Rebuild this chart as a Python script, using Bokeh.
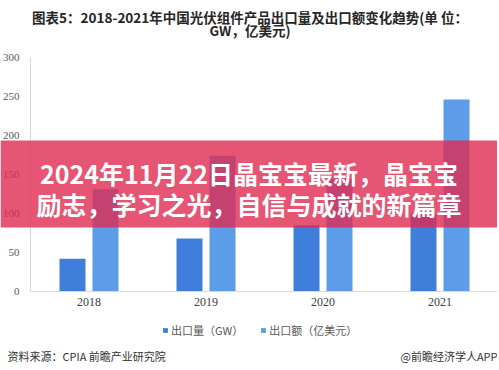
from bokeh.plotting import figure
from bokeh.models import (ColumnDataSource, Range1d, Label, BoxAnnotation,
                          Legend, LegendItem, FixedTicker)
from bokeh.transform import dodge
from bokeh.embed import file_html
from bokeh.resources import INLINE

# ---- data ----
years = ["2018", "2019", "2020", "2021"]
export_gw = [42, 68, 85, 99]          # 出口量（GW）
export_amt = [131, 174, 145, 246]     # 出口额（亿美元）
y_ticks = [0, 50, 100, 150, 200, 250, 300]

title_1 = "图表5：2018-2021年中国光伏组件产品出口量及出口额变化趋势(单 位："
title_2 = "GW，亿美元)"
banner_1 = "2024年11月22日晶宝宝最新，晶宝宝"
banner_2 = "励志，学习之光，自信与成就的新篇章"
legend_labels = ["出口量（GW）", "出口额（亿美元）"]
source_note = "资料来源：CPIA 前瞻产业研究院"
brand_note = "@前瞻经济学人APP"

# ---- layout constants (pixels) ----
W, H = 497, 368
CAT_PX = 117.0        # width of one year category
X0_PX = 88.5          # centre of first category
ZERO_PX = 291.0       # y pixel of value 0
PX_PER = 0.78         # pixels per unit
CJK = "Noto Sans CJK SC"
SERIF = "Liberation Serif"

idx = list(range(len(years)))
src = ColumnDataSource(dict(x=idx, gw=export_gw, amt=export_amt))

x_range = Range1d(-X0_PX / CAT_PX, (W - X0_PX) / CAT_PX)
y_range = Range1d((ZERO_PX - H) / PX_PER, ZERO_PX / PX_PER)

p = figure(x_range=x_range, y_range=y_range, width=W, height=H,
           output_backend="svg", toolbar_location=None,
           min_border=0, outline_line_color=None)
p.background_fill_color = "white"
p.border_fill_color = "white"

off = 16.5 / CAT_PX
bw = 26.0 / CAT_PX
r1 = p.vbar(x=dodge("x", -off), top="gw", width=bw, source=src,
            fill_color="#3F7FDB", line_color=None)
r2 = p.vbar(x=dodge("x", off), top="amt", width=bw, source=src,
            fill_color="#5C9CE8", line_color=None)

p.xgrid.visible = False
p.ygrid.visible = False

ya = p.yaxis[0]
ya.fixed_location = -0.5
ya.bounds = (0, 300)
ya.ticker = FixedTicker(ticks=y_ticks)
ya.axis_line_color = "#D9D9D9"
ya.major_tick_line_color = None
ya.minor_tick_line_color = None
ya.major_tick_out = 0
ya.major_tick_in = 0
ya.major_label_text_font = SERIF
ya.major_label_text_font_size = "11px"
ya.major_label_text_color = "#595959"
ya.major_label_standoff = 11

xa = p.xaxis[0]
xa.fixed_location = 0
xa.bounds = (-0.5, len(years) - 0.5)
xa.ticker = FixedTicker(ticks=idx)
xa.major_label_overrides = {i: y for i, y in zip(idx, years)}
xa.axis_line_color = "#D9D9D9"
xa.major_tick_line_color = None
xa.minor_tick_line_color = None
xa.major_tick_out = 0
xa.major_tick_in = 0
xa.major_label_text_font = SERIF
xa.major_label_text_font_size = "12px"
xa.major_label_text_color = "#404040"
xa.major_label_standoff = 6

legend = Legend(items=[LegendItem(label=legend_labels[0], renderers=[r1]),
                       LegendItem(label=legend_labels[1], renderers=[r2])],
                orientation="horizontal", location=(162, H - 340),
                background_fill_alpha=0, border_line_alpha=0,
                label_text_font=CJK, label_text_font_size="11px",
                label_text_color="#595959", glyph_width=6, glyph_height=6,
                label_standoff=3, spacing=17, padding=0, margin=0,
                label_height=20)
p.add_layout(legend)

# titles
for txt, y in [(title_1, 16), (title_2, 29)]:
    p.add_layout(Label(x=W / 2 + 1, y=y, x_units="canvas", y_units="canvas", text=txt,
                       text_align="center", text_baseline="middle",
                       text_font=CJK, text_font_size="13.5px", text_font_style="bold",
                       text_color="#262626"))

# banner
p.add_layout(BoxAnnotation(left=0, right=W, top=140, bottom=227,
                           left_units="canvas", right_units="canvas",
                           top_units="canvas", bottom_units="canvas",
                           fill_color="#E02A50", fill_alpha=0.8, line_alpha=0,
                           level="overlay"))
for txt, y in [(banner_1, 172), (banner_2, 203)]:
    p.add_layout(Label(x=W / 2, y=y, x_units="canvas", y_units="canvas", text=txt,
                       text_align="center", text_baseline="middle",
                       text_font=CJK, text_font_size="25px", text_font_style="bold",
                       text_color="white", level="overlay"))

# footer
p.add_layout(Label(x=7, y=355, x_units="canvas", y_units="canvas", text=source_note,
                   text_align="left", text_baseline="middle", text_font=CJK,
                   text_font_size="11px", text_color="#333333"))
p.add_layout(Label(x=W, y=355, x_units="canvas", y_units="canvas", text=brand_note,
                   text_align="right", text_baseline="middle", text_font=CJK,
                   text_font_size="11px", text_color="#333333"))

open("out.html", "w").write(file_html(p, INLINE))
